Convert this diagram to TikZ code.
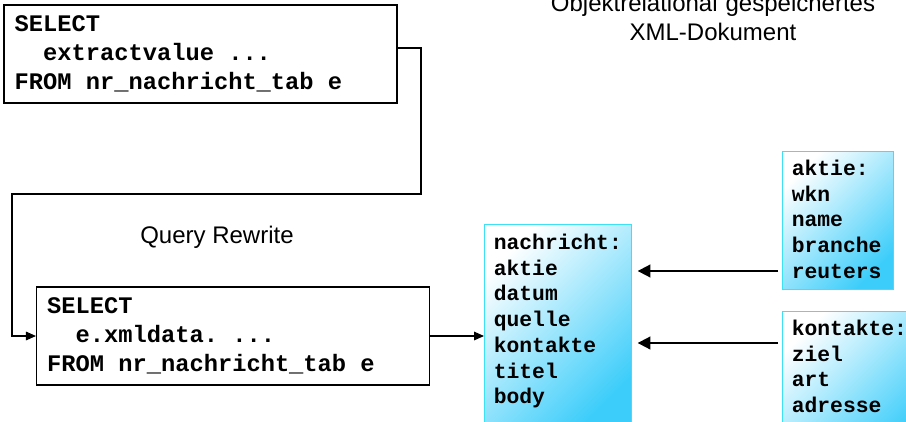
\documentclass[tikz,border=0pt]{standalone}
\usepackage{fontspec}
\setmainfont{Liberation Sans}
\setmonofont{Liberation Mono}
\usetikzlibrary{arrows.meta}
\definecolor{xmlblau}{RGB}{60,205,250}
\definecolor{xmlrand}{RGB}{60,225,245}
% one monospace cell of space
\newcommand{\lz}{\hspace*{0.6em}}

\begin{document}
\begin{tikzpicture}[x=0.75pt,y=0.75pt,yscale=-1,
  sqlbox/.style={draw=black,line width=0.8pt,fill=white,align=left,text width=278.75pt,inner xsep=8pt,minimum height=73.5pt,font=\fontsize{17.8}{21.75}\selectfont\ttfamily\bfseries},
  xmlbox/.style={draw=xmlrand,line width=0.75pt,top color=white,bottom color=xmlblau,shading angle=45,align=left,inner xsep=7pt,inner ysep=0pt,anchor=north west,text height=18pt,font=\fontsize{16}{19.3}\selectfont\ttfamily\bfseries},
  beschriftung/.style={font=\fontsize{18}{21}\selectfont},
  verbinder/.style={line width=0.8pt,-{Triangle[length=7.5pt,width=6.5pt]}},
  pfeil/.style={line width=1.4pt,-{Triangle[length=9.5pt,width=9.5pt]}}]

\useasboundingbox (0,0) rectangle (906,421);
\clip (0,0) rectangle (906,421);

%Shape: SQL boxes
\node (anfrage) [sqlbox] at (200.5,54) {SELECT\\\lz\lz extractvalue\lz...\\FROM\lz nr\_nachricht\_tab\lz e};
\node (umgeschrieben) [sqlbox] at (233,336) {SELECT\\\lz\lz e.xmldata.\lz...\\FROM\lz nr\_nachricht\_tab\lz e};

%Shape: XML types
\node (nachricht) [xmlbox,text width=96pt,text height=18.75pt,text depth=134.25pt] at (484,224) {nachricht:\\aktie\\datum\\quelle\\kontakte\\titel\\body};
\node (aktie) [xmlbox,text width=69pt,text depth=85.5pt] at (782,151) {aktie:\\wkn\\name\\branche\\reuters};
\node (kontakte) [xmlbox,text width=100pt,text depth=78.75pt] at (782,311) {kontakte:\\ziel\\art\\adresse};

% Text Node
\node (rewrite) [beschriftung,anchor=base] at (217,243) {Query Rewrite};
\node (ueberschrift) [beschriftung,anchor=base,align=center,text width=255pt] at (713,12) {Objektrelational gespeichertes\\XML-Dokument};

%Straight Lines
\coordinate (knickA) at (421,48);
\coordinate (knickB) at (12,194);
\draw [verbinder] (anfrage.east |- knickA) -- (knickA) |- (knickB) |- (umgeschrieben.west);
\draw [verbinder] (umgeschrieben.east) -- (nachricht.west |- umgeschrieben.east);

\coordinate (hoeheAktie) at (700,271);
\coordinate (hoeheKontakte) at (700,343);
\draw [pfeil,shorten <=3pt,shorten >=4.5pt] (aktie.west |- hoeheAktie) -- (nachricht.east |- hoeheAktie);
\draw [pfeil,shorten <=3pt,shorten >=4.5pt] (kontakte.west |- hoeheKontakte) -- (nachricht.east |- hoeheKontakte);
\end{tikzpicture}
\end{document}
